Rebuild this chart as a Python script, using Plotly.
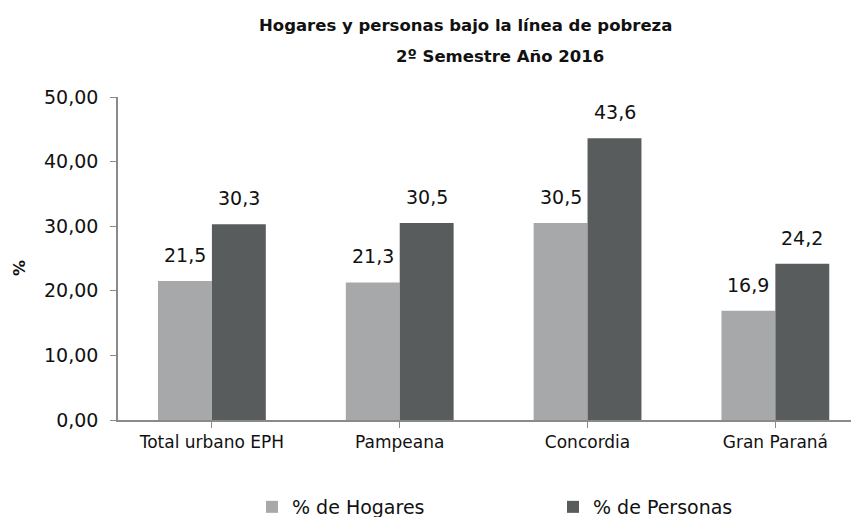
import plotly.graph_objects as go

categories = ["Total urbano EPH", "Pampeana", "Concordia", "Gran Paraná"]
hogares = [21.5, 21.3, 30.5, 16.9]
personas = [30.3, 30.5, 43.6, 24.2]
series_names = ["% de Hogares", "% de Personas"]
y_ticks = [0, 10, 20, 30, 40, 50]

c_light = "#a6a8a9"
c_dark = "#585c5d"
FONT = "DejaVu Sans, sans-serif"
OFF = 8  # page body margin
WIDTH, HEIGHT = 859 - OFF, 517 - OFF
ML, MR, MT, MB = 118 - OFF, 1, 97 - OFF, 97
PW, PH = WIDTH - ML - MR, HEIGHT - MT - MB

idx = list(range(len(categories)))
fig = go.Figure()
fig.add_trace(go.Bar(x=idx, y=hogares, name=series_names[0], legend="legend",
                     marker=dict(color=c_light, line=dict(width=0))))
fig.add_trace(go.Bar(x=idx, y=personas, name=series_names[1], legend="legend2",
                     marker=dict(color=c_dark, line=dict(width=0))))

# convert reference-image pixel positions to paper coords
def px(x):
    return (x - OFF - ML) / PW
def py(y):
    return (HEIGHT - MB - (y - OFF)) / PH

anns = []
for i, (h, p) in enumerate(zip(hogares, personas)):
    for val, shift in ((h, -27), (p, 27)):
        anns.append(dict(x=i, y=val, xref="x", yref="y", xshift=shift, yshift=13,
                         text=f"{val:.1f}".replace(".", ","), showarrow=False,
                         xanchor="center", yanchor="bottom", font=dict(size=19, color="#111", family=FONT)))

anns.append(dict(x=px(465), y=py(25), xref="paper", yref="paper", xanchor="center", yanchor="middle",
                 text="<b>Hogares y personas bajo la línea de pobreza</b>",
                 showarrow=False, font=dict(size=16.5, family=FONT, color="#111")))
anns.append(dict(x=px(500), y=py(57), xref="paper", yref="paper", xanchor="center", yanchor="middle",
                 text="<b>2º Semestre Año 2016</b>",
                 showarrow=False, font=dict(size=16.5, family=FONT, color="#111")))
anns.append(dict(x=px(19), y=py(268), xref="paper", yref="paper", xanchor="center", yanchor="middle",
                 text="<b>%</b>", textangle=-90,
                 showarrow=False, font=dict(size=16, family=FONT, color="#111")))

leg_common = dict(orientation="h", xanchor="left", yanchor="middle",
                  font=dict(size=19, family=FONT, color="#111"), itemwidth=30, bgcolor="rgba(0,0,0,0)")

fig.update_layout(
    width=WIDTH, height=HEIGHT,
    margin=dict(l=ML, r=MR, t=MT, b=MB, autoexpand=False),
    paper_bgcolor="white", plot_bgcolor="white",
    separators=",.",
    barmode="group", bargap=0.426, bargroupgap=0,
    showlegend=True,
    legend=dict(x=px(252), y=py(507), **leg_common),
    legend2=dict(x=px(553), y=py(507), **leg_common),
    font=dict(family=FONT, color="#111"),
    annotations=anns,
)

fig.update_xaxes(
    range=[-0.5, 3.44], tickmode="array", tickvals=idx, ticktext=categories,
    tickson="boundaries", ticks="outside", ticklen=6, tickcolor="#8a8a8a",
    showline=True, linecolor="#8a8a8a", linewidth=1.5, showgrid=False,
    tickfont=dict(size=17, family=FONT, color="#111"), fixedrange=True,
)
fig.update_yaxes(
    range=[0, 50], tickmode="array", tickvals=y_ticks, tickformat=".2f",
    ticks="outside", ticklen=6, tickcolor="#8a8a8a", ticklabelstandoff=8,
    showline=True, linecolor="#8a8a8a", linewidth=1.5, showgrid=False, zeroline=False,
    tickfont=dict(size=19, family=FONT, color="#111"), fixedrange=True,
)

fig.write_html("out.html")
